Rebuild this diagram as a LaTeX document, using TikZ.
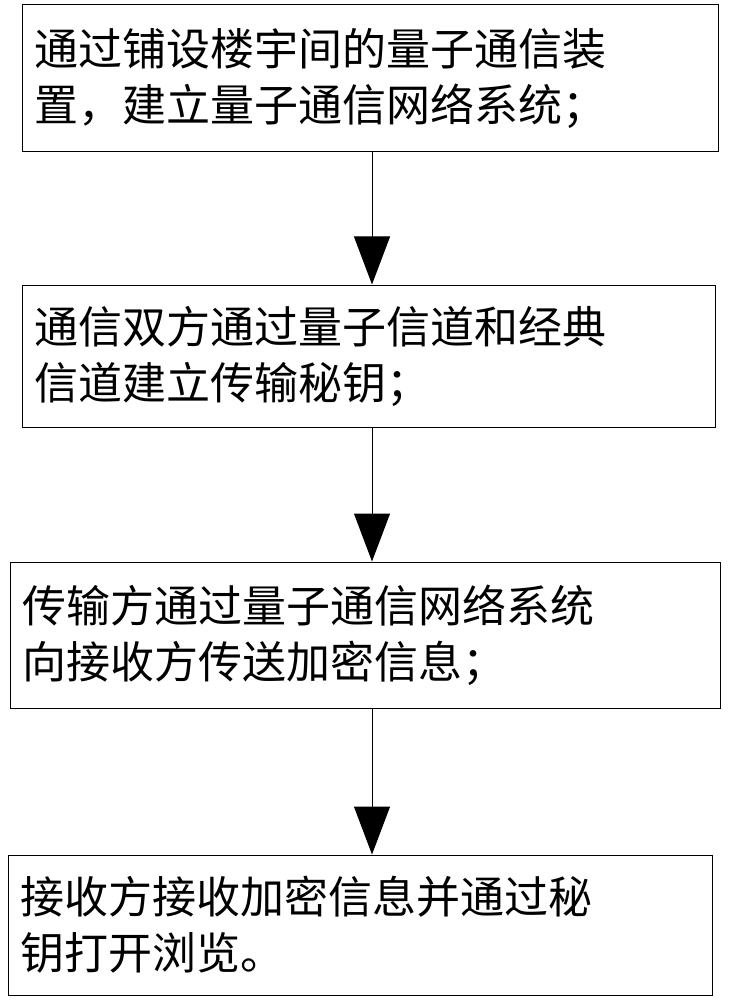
\documentclass[tikz,border=0pt]{standalone}
\usepackage{fontspec}
\newfontfamily\cjk{Noto Sans CJK SC}
\usetikzlibrary{arrows.meta}

\begin{document}
\begin{tikzpicture}[x=1pt,y=1pt,
  stepbox/.style={draw,line width=1pt,align=left,inner xsep=12pt,
    font=\cjk\fontsize{44}{56}\selectfont},
  flow/.style={line width=1pt,-{Triangle[width=36pt,length=48pt]}}]
\useasboundingbox (0,0) rectangle (738,-1000);
\coordinate (ax) at (372,0);
\node[stepbox,text width=672pt,minimum width=696pt,minimum height=147pt] (b1) at (370,-78.5)
  {通过铺设楼宇间的量子通信装\\置，建立量子通信网络系统；};
\node[stepbox,text width=669pt,minimum width=693pt,minimum height=142pt] (b2) at (368.5,-356)
  {通信双方通过量子信道和经典\\信道建立传输秘钥；};
\node[stepbox,text width=686pt,minimum width=710pt,minimum height=146pt] (b3) at (365,-635)
  {传输方通过量子通信网络系统\\向接收方传送加密信息；};
\node[stepbox,text width=680pt,minimum width=704pt,minimum height=140pt] (b4) at (360,-925)
  {接收方接收加密信息并通过秘\\钥打开浏览。};
% connectors
\draw[flow] (b1.south -| ax) -- (b2.north -| ax);
\draw[flow] (b2.south -| ax) -- (b3.north -| ax);
\draw[flow] (b3.south -| ax) -- (b4.north -| ax);
\end{tikzpicture}
\end{document}
